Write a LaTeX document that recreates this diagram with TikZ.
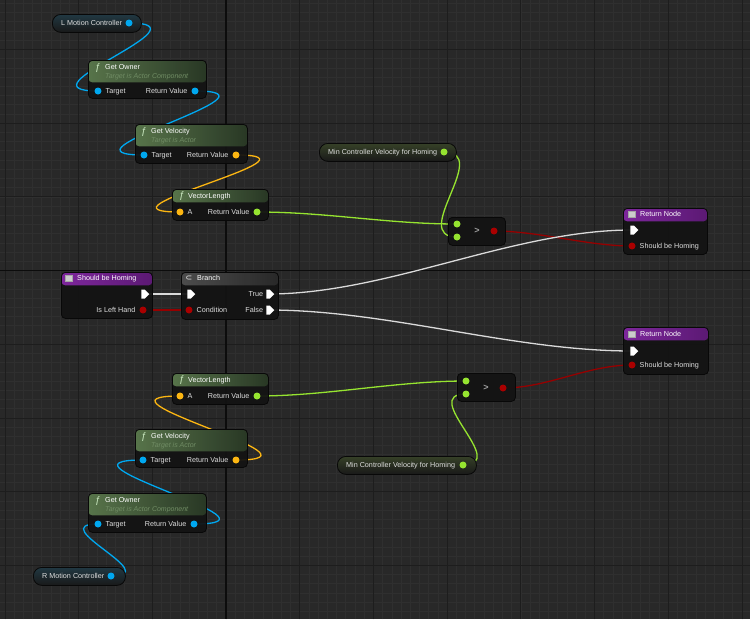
\documentclass[tikz,border=0pt]{standalone}
\usepackage{fontspec}
\setmainfont{Liberation Sans}
\newfontfamily\symfont{DejaVu Sans}
\usepackage{xcolor}
\usetikzlibrary{shapes.symbols, positioning, backgrounds}

\definecolor{graphbg}{RGB}{40,40,40}
\definecolor{gridminor}{RGB}{47,47,47}
\definecolor{gridmajor}{RGB}{29,29,29}
\definecolor{gridaxis}{RGB}{12,12,12}
\definecolor{bpbody}{RGB}{19,19,19}
\definecolor{bpedge}{RGB}{8,8,8}
\definecolor{pillbody}{RGB}{38,38,38}
\definecolor{fnhdrL}{RGB}{92,122,78}
\definecolor{fnhdrR}{RGB}{42,58,38}
\definecolor{evhdrL}{RGB}{132,40,164}
\definecolor{evhdrR}{RGB}{96,26,122}
\definecolor{brhdrL}{RGB}{80,80,80}
\definecolor{brhdrR}{RGB}{42,42,42}
\definecolor{pinobj}{RGB}{0,168,240}
\definecolor{pinvec}{RGB}{252,182,18}
\definecolor{pinflt}{RGB}{150,228,48}
\definecolor{pinbool}{RGB}{170,0,0}
\definecolor{wirebool}{RGB}{150,0,0}
\definecolor{wireexec}{RGB}{218,218,218}
\definecolor{txtmain}{RGB}{222,222,222}
\definecolor{txtsub}{RGB}{112,140,100}
\definecolor{fnglyph}{RGB}{205,235,195}

\pgfdeclarelayer{wires}
\pgfsetlayers{background,wires,main}

\begin{document}
\begin{tikzpicture}[
    x=1pt, y=-1pt,
    font=\fontsize{7.2}{8.6}\selectfont, text=txtmain,
    bpnode/.style={rectangle, draw=bpedge, line width=0.8pt, rounded corners=4pt,
                   fill=bpbody, fill opacity=0.94, anchor=north west, inner sep=0pt},
    head/.style n args={3}{path picture={\shade[left color=#1, right color=#2]
        (path picture bounding box.north west) rectangle
        ([yshift=-#3]path picture bounding box.north east);}},
    varget/.style={rectangle, rounded corners=8.5pt, draw=bpedge, line width=0.8pt,
                   top color=#1!14!pillbody, bottom color=pillbody!65!black,
                   anchor=north west, inner sep=0pt},
    dpin/.style={circle, fill=#1, minimum size=7pt, inner sep=0pt, outer sep=0pt},
    xpin/.style={signal, signal to=east, fill=white, minimum width=8pt,
                 minimum height=9pt, inner sep=0pt, outer sep=0pt},
    pinlbl/.style={inner sep=0pt, text=txtmain, text height=5.2pt, text depth=0.4pt},
    ttl/.style={inner sep=0pt, anchor=west, text=white, text height=5.2pt, text depth=0.4pt},
    subttl/.style={inner sep=0pt, anchor=west, text=txtsub,
                   font=\fontsize{7}{8}\selectfont\itshape},
    fnicon/.style={inner sep=0pt, text=fnglyph, font=\fontsize{9.5}{10}\selectfont},
    evicon/.style={rectangle, fill=gray!40, draw=gray!70, line width=0.4pt,
                   minimum width=7pt, minimum height=6pt, inner sep=0pt},
    bricon/.style={inner sep=0pt, text=white, font=\symfont\fontsize{8}{9}\selectfont},
    cmpsym/.style={inner sep=0pt, text=gray!75, font=\fontsize{9}{10}\selectfont\bfseries},
    wire/.style={line width=1.3pt, draw=#1},
    spline/.style={out=0, in=180, distance=#1}
]

\useasboundingbox (0,0) rectangle (750,619);

%% --- GRAPH BACKGROUND ---
\begin{scope}[on background layer]
    \fill[graphbg] (0,0) rectangle (750,619);
    \draw[gridminor, line width=0.6pt, shift={(226,270.5)}, step=9.2125pt]
        (-226,-270.5) grid (524,348.5);
    \draw[gridmajor, line width=0.8pt, shift={(226,270.5)}, step=73.7pt]
        (-226,-270.5) grid (524,348.5);
    \draw[gridaxis, line width=1.1pt] (226,0) -- (226,619);
    \draw[gridaxis, line width=1.1pt] (0,270.5) -- (750,270.5);
\end{scope}

%% --- LEFT CONTROLLER CHAIN (top) ---
\node[varget=pinobj, minimum width=89pt, minimum height=18pt] (lmc) at (52,14) {};
\node[pinlbl, right=9pt of lmc.west] (lmc-txt) {L Motion Controller};
\node[dpin=pinobj] (lmc-out) at (129,23) {};

\node[bpnode, head={fnhdrL}{fnhdrR}{22pt}, minimum width=118pt, minimum height=38pt] (gownA) at (88,60) {};
\node[fnicon] (gownA-ico) at (98,68) {ƒ};
\node[ttl] (gownA-ttl) at (105,67) {Get Owner};
\node[subttl] (gownA-sub) at (105,77) {Target is Actor Component};
\node[dpin=pinobj] (gownA-tgt) at (98,91) {};
\node[dpin=pinobj] (gownA-rv) at (195,91) {};
\node[pinlbl, right=4pt of gownA-tgt] (gownA-tgtl) {Target};
\node[pinlbl, left=4pt of gownA-rv] (gownA-rvl) {Return Value};

\node[bpnode, head={fnhdrL}{fnhdrR}{22pt}, minimum width=112pt, minimum height=39pt] (gvelA) at (135,124) {};
\node[fnicon] (gvelA-ico) at (144,132) {ƒ};
\node[ttl] (gvelA-ttl) at (151,131) {Get Velocity};
\node[subttl] (gvelA-sub) at (151,141) {Target is Actor};
\node[dpin=pinobj] (gvelA-tgt) at (144,155) {};
\node[dpin=pinvec] (gvelA-rv) at (236,155) {};
\node[pinlbl, right=4pt of gvelA-tgt] (gvelA-tgtl) {Target};
\node[pinlbl, left=4pt of gvelA-rv] (gvelA-rvl) {Return Value};

\node[bpnode, head={fnhdrL}{fnhdrR}{13pt}, minimum width=96pt, minimum height=31pt] (vlenA) at (172,189) {};
\node[fnicon] (vlenA-ico) at (182,196) {ƒ};
\node[ttl] (vlenA-ttl) at (188,196) {VectorLength};
\node[dpin=pinvec] (vlenA-a) at (180,212) {};
\node[dpin=pinflt] (vlenA-rv) at (257,212) {};
\node[pinlbl, right=4pt of vlenA-a] (vlenA-al) {A};
\node[pinlbl, left=4pt of vlenA-rv] (vlenA-rvl) {Return Value};

%% --- COMPARE + RETURN (top) ---
\node[varget=pinflt, minimum width=137pt, minimum height=18pt] (mincA) at (319,143) {};
\node[pinlbl, right=9pt of mincA.west] (mincA-txt) {Min Controller Velocity for Homing};
\node[dpin=pinflt] (mincA-out) at (444,152) {};

\node[bpnode, minimum width=57pt, minimum height=28pt] (gtA) at (448,217) {};
\node[cmpsym] (gtA-sym) at (477,231) {>};
\node[dpin=pinflt] (gtA-a) at (457,224) {};
\node[dpin=pinflt] (gtA-b) at (457,237) {};
\node[dpin=pinbool] (gtA-out) at (494,231) {};

\node[bpnode, head={evhdrL}{evhdrR}{13pt}, minimum width=84pt, minimum height=46pt] (retA) at (623,208) {};
\node[evicon] (retA-ico) at (632,214) {};
\node[ttl] (retA-ttl) at (640,214) {Return Node};
\node[xpin] (retA-exec) at (632,230) {};
\node[dpin=pinbool] (retA-sbh) at (632,246) {};
\node[pinlbl, right=4pt of retA-sbh] (retA-sbhl) {Should be Homing};

%% --- ENTRY + BRANCH ---
\node[bpnode, head={evhdrL}{evhdrR}{13pt}, minimum width=91pt, minimum height=46pt] (shbEv) at (61,272) {};
\node[evicon] (shbEv-ico) at (69,278) {};
\node[ttl] (shbEv-ttl) at (77,278) {Should be Homing};
\node[xpin] (shbEv-exec) at (143,294) {};
\node[dpin=pinbool] (shbEv-islh) at (143,310) {};
\node[pinlbl, left=4pt of shbEv-islh] (shbEv-islhl) {Is Left Hand};

\node[bpnode, head={brhdrL}{brhdrR}{13pt}, minimum width=97pt, minimum height=47pt] (branch) at (181,272) {};
\node[bricon] (branch-ico) at (189,278) {⊂};
\node[ttl] (branch-ttl) at (197,278) {Branch};
\node[xpin] (branch-exec) at (189,294) {};
\node[dpin=pinbool] (branch-cond) at (189,310) {};
\node[xpin] (branch-true) at (268,294) {};
\node[xpin] (branch-false) at (268,310) {};
\node[pinlbl, right=4pt of branch-cond] (branch-condl) {Condition};
\node[pinlbl, left=3pt of branch-true] (branch-truel) {True};
\node[pinlbl, left=3pt of branch-false] (branch-falsel) {False};

%% --- COMPARE + RETURN (bottom) ---
\node[bpnode, head={evhdrL}{evhdrR}{13pt}, minimum width=85pt, minimum height=47pt] (retB) at (623,327) {};
\node[evicon] (retB-ico) at (632,334) {};
\node[ttl] (retB-ttl) at (640,334) {Return Node};
\node[xpin] (retB-exec) at (632,351) {};
\node[dpin=pinbool] (retB-sbh) at (632,365) {};
\node[pinlbl, right=4pt of retB-sbh] (retB-sbhl) {Should be Homing};

\node[bpnode, minimum width=58pt, minimum height=28pt] (gtB) at (457,373) {};
\node[cmpsym] (gtB-sym) at (486,388) {>};
\node[dpin=pinflt] (gtB-a) at (466,381) {};
\node[dpin=pinflt] (gtB-b) at (466,394) {};
\node[dpin=pinbool] (gtB-out) at (503,388) {};

\node[varget=pinflt, minimum width=139pt, minimum height=18pt] (mincB) at (337,456) {};
\node[pinlbl, right=9pt of mincB.west] (mincB-txt) {Min Controller Velocity for Homing};
\node[dpin=pinflt] (mincB-out) at (463,465) {};

%% --- RIGHT CONTROLLER CHAIN (bottom) ---
\node[bpnode, head={fnhdrL}{fnhdrR}{13pt}, minimum width=96pt, minimum height=31pt] (vlenB) at (172,373) {};
\node[fnicon] (vlenB-ico) at (182,380) {ƒ};
\node[ttl] (vlenB-ttl) at (188,380) {VectorLength};
\node[dpin=pinvec] (vlenB-a) at (180,396) {};
\node[dpin=pinflt] (vlenB-rv) at (257,396) {};
\node[pinlbl, right=4pt of vlenB-a] (vlenB-al) {A};
\node[pinlbl, left=4pt of vlenB-rv] (vlenB-rvl) {Return Value};

\node[bpnode, head={fnhdrL}{fnhdrR}{22pt}, minimum width=112pt, minimum height=38pt] (gvelB) at (135,429) {};
\node[fnicon] (gvelB-ico) at (144,437) {ƒ};
\node[ttl] (gvelB-ttl) at (151,436) {Get Velocity};
\node[subttl] (gvelB-sub) at (151,446) {Target is Actor};
\node[dpin=pinobj] (gvelB-tgt) at (143,460) {};
\node[dpin=pinvec] (gvelB-rv) at (236,460) {};
\node[pinlbl, right=4pt of gvelB-tgt] (gvelB-tgtl) {Target};
\node[pinlbl, left=4pt of gvelB-rv] (gvelB-rvl) {Return Value};

\node[bpnode, head={fnhdrL}{fnhdrR}{22pt}, minimum width=118pt, minimum height=39pt] (gownB) at (88,493) {};
\node[fnicon] (gownB-ico) at (98,501) {ƒ};
\node[ttl] (gownB-ttl) at (105,500) {Get Owner};
\node[subttl] (gownB-sub) at (105,510) {Target is Actor Component};
\node[dpin=pinobj] (gownB-tgt) at (98,524) {};
\node[dpin=pinobj] (gownB-rv) at (194,524) {};
\node[pinlbl, right=4pt of gownB-tgt] (gownB-tgtl) {Target};
\node[pinlbl, left=4pt of gownB-rv] (gownB-rvl) {Return Value};

\node[varget=pinobj, minimum width=92pt, minimum height=18pt] (rmc) at (33,567) {};
\node[pinlbl, right=9pt of rmc.west] (rmc-txt) {R Motion Controller};
\node[dpin=pinobj] (rmc-out) at (111,576) {};

%% --- WIRES ---
\begin{pgfonlayer}{wires}
    \draw[wire=pinobj] (lmc-out.center) to[spline=85pt] (gownA-tgt.center);
    \draw[wire=pinobj] (gownA-rv.center) to[spline=100pt] (gvelA-tgt.center);
    \draw[wire=pinvec] (gvelA-rv.center) to[spline=100pt] (vlenA-a.center);
    \draw[wire=pinflt] (vlenA-rv.center) to[spline=70pt] (gtA-a.center);
    \draw[wire=pinflt] (mincA-out.center) to[spline=48pt] (gtA-b.center);
    \draw[wire=wirebool] (gtA-out.center) to[spline=45pt] (retA-sbh.center);

    \draw[wire=wireexec] (shbEv-exec.center) -- (branch-exec.center);
    \draw[wire=wirebool] (shbEv-islh.center) -- (branch-cond.center);
    \draw[wire=wireexec] (branch-true.center) to[spline=120pt] (retA-exec.center);
    \draw[wire=wireexec] (branch-false.center) to[spline=120pt] (retB-exec.center);

    \draw[wire=pinflt] (vlenB-rv.center) to[spline=70pt] (gtB-a.center);
    \draw[wire=pinflt] (mincB-out.center) to[spline=48pt] (gtB-b.center);
    \draw[wire=wirebool] (gtB-out.center) to[spline=45pt] (retB-sbh.center);
    \draw[wire=pinvec] (gvelB-rv.center) to[spline=105pt] (vlenB-a.center);
    \draw[wire=pinobj] (gownB-rv.center) to[spline=105pt] (gvelB-tgt.center);
    \draw[wire=pinobj] (rmc-out.center) to[spline=55pt] (gownB-tgt.center);
\end{pgfonlayer}

\end{tikzpicture}
\end{document}
